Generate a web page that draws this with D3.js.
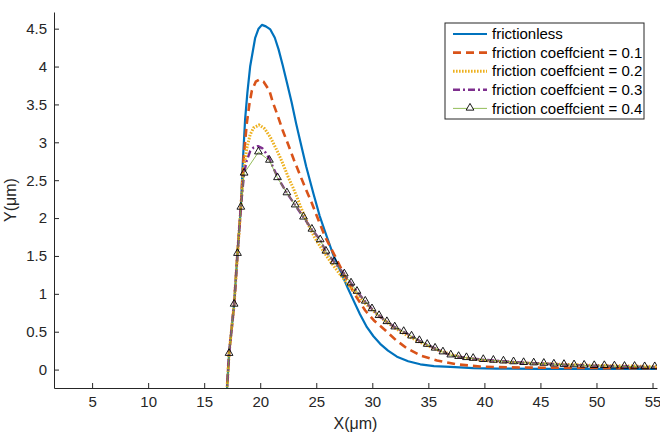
<!DOCTYPE html>
<html>
<head>
<meta charset="utf-8">
<script src="https://cdn.jsdelivr.net/npm/d3@7"></script>
<style>
  html, body { margin: 0; padding: 0; background: #fff; }
  svg { display: block; font-family: "Liberation Sans", Arial, Helvetica, sans-serif; }
</style>
</head>
<body>
<svg id="chart" width="660" height="440"></svg>
<script>
// ---------------- DATA ----------------
const seriesNames = ["frictionless", "friction coeffcient = 0.1", "friction coeffcient = 0.2", "friction coeffcient = 0.3", "friction coeffcient = 0.4"];

const xTicks = [5, 10, 15, 20, 25, 30, 35, 40, 45, 50, 55];
const xTickLabels = ["5", "10", "15", "20", "25", "30", "35", "40", "45", "50", "55"];
const yTicks = [0, 0.5, 1, 1.5, 2, 2.5, 3, 3.5, 4, 4.5];
const yTickLabels = ["0", "0.5", "1", "1.5", "2", "2.5", "3", "3.5", "4", "4.5"];

const xFrictionless = [17.0, 17.22, 17.67, 17.97, 18.27, 18.45, 18.65, 18.85, 19.1, 19.55, 19.85, 20.15, 20.5, 20.9, 21.3, 21.63, 22.0, 22.38, 22.8, 23.2, 23.56, 24.1, 24.75, 25.3, 25.95, 26.5, 27.14, 27.8, 28.33, 28.9, 29.52, 30.1, 30.7, 31.4, 32.2, 33.2, 34.28, 35.5, 36.96, 39.0, 41.1, 45.0, 50.0, 55.4];
const yFrictionless = [-0.35, 0.21, 0.86, 1.53, 2.14, 2.75, 3.3, 3.65, 4.0, 4.38, 4.5, 4.55, 4.53, 4.49, 4.38, 4.23, 4.02, 3.79, 3.53, 3.25, 3.02, 2.68, 2.32, 2.03, 1.75, 1.52, 1.31, 1.08, 0.91, 0.73, 0.56, 0.44, 0.34, 0.25, 0.17, 0.11, 0.07, 0.045, 0.035, 0.02, 0.013, 0.01, 0.01, 0.01];

const xMu01 = [17.0, 17.22, 17.67, 17.97, 18.27, 18.5, 18.8, 19.04, 19.25, 19.6, 19.93, 20.3, 20.82, 21.12, 21.54, 22.0, 22.52, 23.0, 23.6, 24.1, 24.6, 25.2, 25.8, 26.7, 27.5, 28.4, 29.37, 30.2, 31.15, 32.1, 33.09, 34.4, 35.77, 37.5, 39.6, 42.0, 45.0, 50.0, 55.4];
const yMu01 = [-0.35, 0.21, 0.86, 1.53, 2.14, 2.75, 3.25, 3.51, 3.68, 3.8, 3.83, 3.8, 3.68, 3.53, 3.36, 3.16, 2.96, 2.77, 2.55, 2.37, 2.2, 1.97, 1.75, 1.49, 1.25, 1.0, 0.78, 0.64, 0.52, 0.39, 0.28, 0.18, 0.12, 0.07, 0.04, 0.03, 0.025, 0.02, 0.02];

const xMu02 = [17.0, 17.22, 17.67, 17.97, 18.27, 18.5, 18.8, 19.1, 19.4, 19.9, 20.4, 20.89, 21.3, 21.78, 22.15, 22.5, 22.9, 23.27, 23.6, 24.2, 24.9, 25.6, 26.24, 27.0, 27.8, 28.6, 29.4, 30.2, 31.0, 32.0, 33.0, 34.0, 35.0, 36.0, 37.0, 38.0, 39.0, 40.0, 42.0, 44.0, 46.0, 48.0, 50.0, 52.0, 54.0, 55.4];
const yMu02 = [-0.35, 0.21, 0.86, 1.53, 2.14, 2.62, 2.92, 3.1, 3.19, 3.23, 3.18, 3.07, 2.95, 2.8, 2.67, 2.54, 2.41, 2.28, 2.15, 1.94, 1.73, 1.57, 1.43, 1.28, 1.13, 1.0, 0.87, 0.76, 0.66, 0.55, 0.46, 0.38, 0.31, 0.25, 0.2, 0.16, 0.14, 0.12, 0.1, 0.085, 0.075, 0.065, 0.055, 0.05, 0.045, 0.04];

const xMu03 = [17.0, 17.22, 17.67, 17.97, 18.27, 18.56, 18.8, 19.1, 19.4, 19.8, 20.2, 20.5, 20.82, 21.54, 22.38, 23.12, 23.86, 24.61, 25.35, 25.86, 26.6, 27.5, 28.1, 28.63, 29.37, 29.97, 30.6, 31.3, 32.0, 32.8, 33.5, 34.2, 34.9, 35.6, 36.3, 37.0, 37.7, 38.4, 39.0, 39.9, 40.8, 41.7, 42.6, 43.5, 44.4, 45.3, 46.2, 47.1, 48.0, 48.9, 49.8, 50.7, 51.6, 52.5, 53.4, 54.3, 55.2];
const yMu03 = [-0.35, 0.21, 0.86, 1.53, 2.14, 2.59, 2.76, 2.88, 2.93, 2.95, 2.92, 2.86, 2.78, 2.54, 2.33, 2.17, 2.01, 1.85, 1.71, 1.56, 1.42, 1.26, 1.14, 1.03, 0.9, 0.8, 0.71, 0.63, 0.56, 0.5, 0.44, 0.38, 0.33, 0.28, 0.23, 0.19, 0.17, 0.155, 0.145, 0.13, 0.12, 0.11, 0.1, 0.09, 0.085, 0.08, 0.07, 0.065, 0.06, 0.055, 0.05, 0.05, 0.045, 0.04, 0.04, 0.035, 0.035];

const xMu04 = [17.0, 17.22, 17.67, 17.97, 18.27, 18.56, 19.84, 20.82, 21.54, 22.38, 23.12, 23.86, 24.61, 25.35, 25.86, 26.6, 27.5, 28.1, 28.63, 29.37, 29.97, 30.6, 31.3, 32.0, 32.8, 33.5, 34.2, 34.9, 35.6, 36.3, 37.0, 37.7, 38.4, 39.0, 39.9, 40.8, 41.7, 42.6, 43.5, 44.4, 45.3, 46.2, 47.1, 48.0, 48.9, 49.8, 50.7, 51.6, 52.5, 53.4, 54.3, 55.2];
const yMu04 = [-0.35, 0.21, 0.86, 1.53, 2.14, 2.59, 2.87, 2.76, 2.53, 2.33, 2.17, 2.01, 1.85, 1.71, 1.56, 1.42, 1.26, 1.14, 1.03, 0.9, 0.8, 0.71, 0.63, 0.56, 0.5, 0.44, 0.38, 0.33, 0.28, 0.23, 0.19, 0.17, 0.155, 0.145, 0.13, 0.12, 0.11, 0.1, 0.09, 0.085, 0.08, 0.07, 0.065, 0.06, 0.055, 0.05, 0.05, 0.045, 0.04, 0.04, 0.035, 0.035];

// ---------------- STYLES ----------------
const styles = [
  { color: "#0072BD", width: 2.2, dash: null,      marker: false },
  { color: "#D95319", width: 2.6, dash: "8,5",     marker: false },
  { color: "#EDB120", width: 3.0, dash: "1.6,1.4", marker: false },
  { color: "#7E2F8E", width: 2.4, dash: "7,3,2,3", marker: false },
  { color: "#77AC30", width: 0.8, dash: null,      marker: true  }
];

const series = [
  { xs: xFrictionless, ys: yFrictionless },
  { xs: xMu01, ys: yMu01 },
  { xs: xMu02, ys: yMu02 },
  { xs: xMu03, ys: yMu03 },
  { xs: xMu04, ys: yMu04 }
].map((s, i) => ({
  name: seriesNames[i],
  style: styles[i],
  points: s.xs.map((xv, j) => ({ x: xv, y: s.ys[j] }))
}));

// ---------------- LAYOUT ----------------
const svg = d3.select("#chart");
const plotL = 54, plotR = 657, plotT = 12, plotB = 388;
const x = d3.scaleLinear().domain([1.6, 55.4]).range([plotL, plotR]);
const y = d3.scaleLinear().domain([-0.243, 4.72]).range([plotB, plotT]);
const axisColor = "#262626";

svg.append("defs").append("clipPath").attr("id", "clip")
  .append("rect").attr("x", plotL).attr("y", plotT).attr("width", plotR - plotL).attr("height", plotB - plotT);

// Axes
const xAxis = d3.axisBottom(x).tickValues(xTicks).tickFormat((d, i) => xTickLabels[i])
  .tickSizeInner(-5).tickSizeOuter(0).tickPadding(8);
const yAxis = d3.axisLeft(y).tickValues(yTicks).tickFormat((d, i) => yTickLabels[i])
  .tickSizeInner(-5).tickSizeOuter(0).tickPadding(7);

const gx = svg.append("g").attr("transform", `translate(0,${plotB})`).call(xAxis);
const gy = svg.append("g").attr("transform", `translate(${plotL},0)`).call(yAxis);
[gx, gy].forEach(g => {
  g.select(".domain").attr("stroke", axisColor).attr("stroke-width", 1);
  g.selectAll(".tick line").attr("stroke", axisColor).attr("stroke-width", 1);
  g.selectAll(".tick text").attr("fill", axisColor).style("font-size", "15px")
    .style("font-family", '"Liberation Sans", Arial, sans-serif');
});

// Axis labels
svg.append("text").attr("x", (plotL + plotR) / 2).attr("y", 429)
  .attr("text-anchor", "middle").attr("fill", axisColor).style("font-size", "16px")
  .text("X(μm)");
svg.append("text").attr("transform", `translate(16,${(plotT + plotB) / 2}) rotate(-90)`)
  .attr("text-anchor", "middle").attr("fill", axisColor).style("font-size", "16px")
  .text("Y(μm)");

// Lines
const line = d3.line().x(d => x(d.x)).y(d => y(d.y));
const plot = svg.append("g").attr("clip-path", "url(#clip)");
const tri = d3.symbol().type(d3.symbolTriangle).size(26);

series.forEach(s => {
  plot.append("path").datum(s.points)
    .attr("d", line)
    .attr("fill", "none")
    .attr("stroke", s.style.color)
    .attr("stroke-width", s.style.width)
    .attr("stroke-dasharray", s.style.dash)
    .attr("stroke-linejoin", "round");
  if (s.style.marker) {
    plot.selectAll(null).data(s.points).enter().append("path")
      .attr("d", tri)
      .attr("transform", d => `translate(${x(d.x)},${y(d.y) - 0.5})`)
      .attr("fill", "none")
      .attr("stroke", "#000")
      .attr("stroke-width", 0.9);
  }
});

// Legend
const lg = svg.append("g");
const lgX = 445, lgY = 23, lgW = 199, lgH = 96, rowH = 18.6, row0 = 34;
lg.append("rect").attr("x", lgX).attr("y", lgY).attr("width", lgW).attr("height", lgH)
  .attr("fill", "#fff").attr("stroke", "#262626").attr("stroke-width", 1);
series.forEach((s, i) => {
  const cy = row0 + i * rowH;
  lg.append("line").attr("x1", 453).attr("x2", 487).attr("y1", cy).attr("y2", cy)
    .attr("stroke", s.style.color).attr("stroke-width", s.style.width)
    .attr("stroke-dasharray", s.style.dash);
  if (s.style.marker) {
    lg.append("path").attr("d", tri).attr("transform", `translate(470,${cy - 0.5})`)
      .attr("fill", "#fff").attr("stroke", "#000").attr("stroke-width", 0.9);
  }
  lg.append("text").attr("x", 492).attr("y", cy).attr("dy", "0.35em")
    .attr("fill", "#000").style("font-size", "15px").text(s.name);
});
</script>
</body>
</html>
